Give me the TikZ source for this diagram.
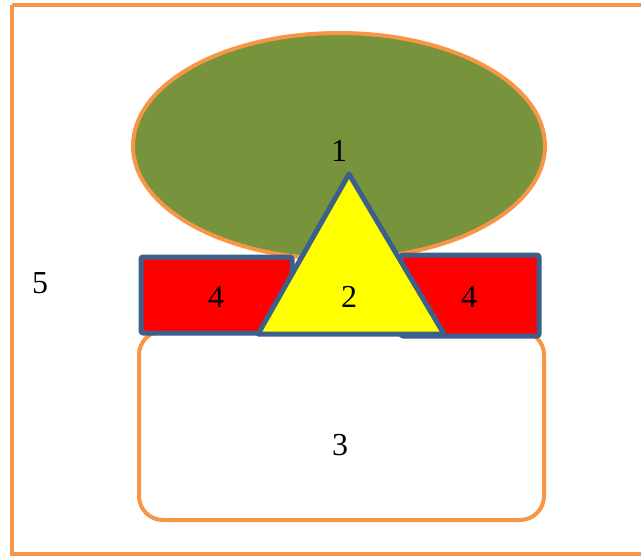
\documentclass[tikz,border=0pt]{standalone}
\usepackage{fontspec}
\setmainfont{Liberation Serif}
\definecolor{frameorange}{RGB}{247,150,70}
\definecolor{olivefill}{RGB}{119,147,60}
\definecolor{edgeblue}{RGB}{60,95,140}
\definecolor{brightyellow}{RGB}{255,255,0}
\tikzset{
  orangeline/.style={draw=frameorange, line width=4.5pt},
  blueline/.style={draw=edgeblue, line width=5pt, line join=round},
  num/.style={font=\fontsize{32}{34}\selectfont, inner sep=0pt}
}
\begin{document}
\begin{tikzpicture}[x=1pt, y=-1pt]
\useasboundingbox (0,0) rectangle (641,557);
% outer frame
\draw[orangeline] (12,5) -- (660,5) (12,5) -- (12,554) -- (660,554);
% ellipse
\draw[orangeline, line width=4pt, fill=olivefill] (339,146) ellipse [x radius=206, y radius=113];
% rounded box
\draw[orangeline, line width=4pt, fill=white, rounded corners=24pt] (139,331) rectangle (544,520);
% red bars
\draw[blueline, fill=red, rounded corners=2pt] (141,257) rectangle (292,333);
\draw[blueline, fill=red, rounded corners=2pt] (401,255) rectangle (539,336);
% triangle
\coordinate (apex) at (349,174);
\coordinate (baseL) at (258,334);
\coordinate (baseR) at (444,334);
\draw[blueline, fill=brightyellow] (apex) -- (baseR) -- (baseL) -- cycle;
% labels
\node[num] (one) at (339,151) {1};
\node[num] (two) at (349,297) {2};
\node[num] (three) at (340,445) {3};
\node[num] (fourL) at (216,297) {4};
\node[num] (fourR) at (469,297) {4};
\node[num] (five) at (40,283) {5};
\end{tikzpicture}
\end{document}
